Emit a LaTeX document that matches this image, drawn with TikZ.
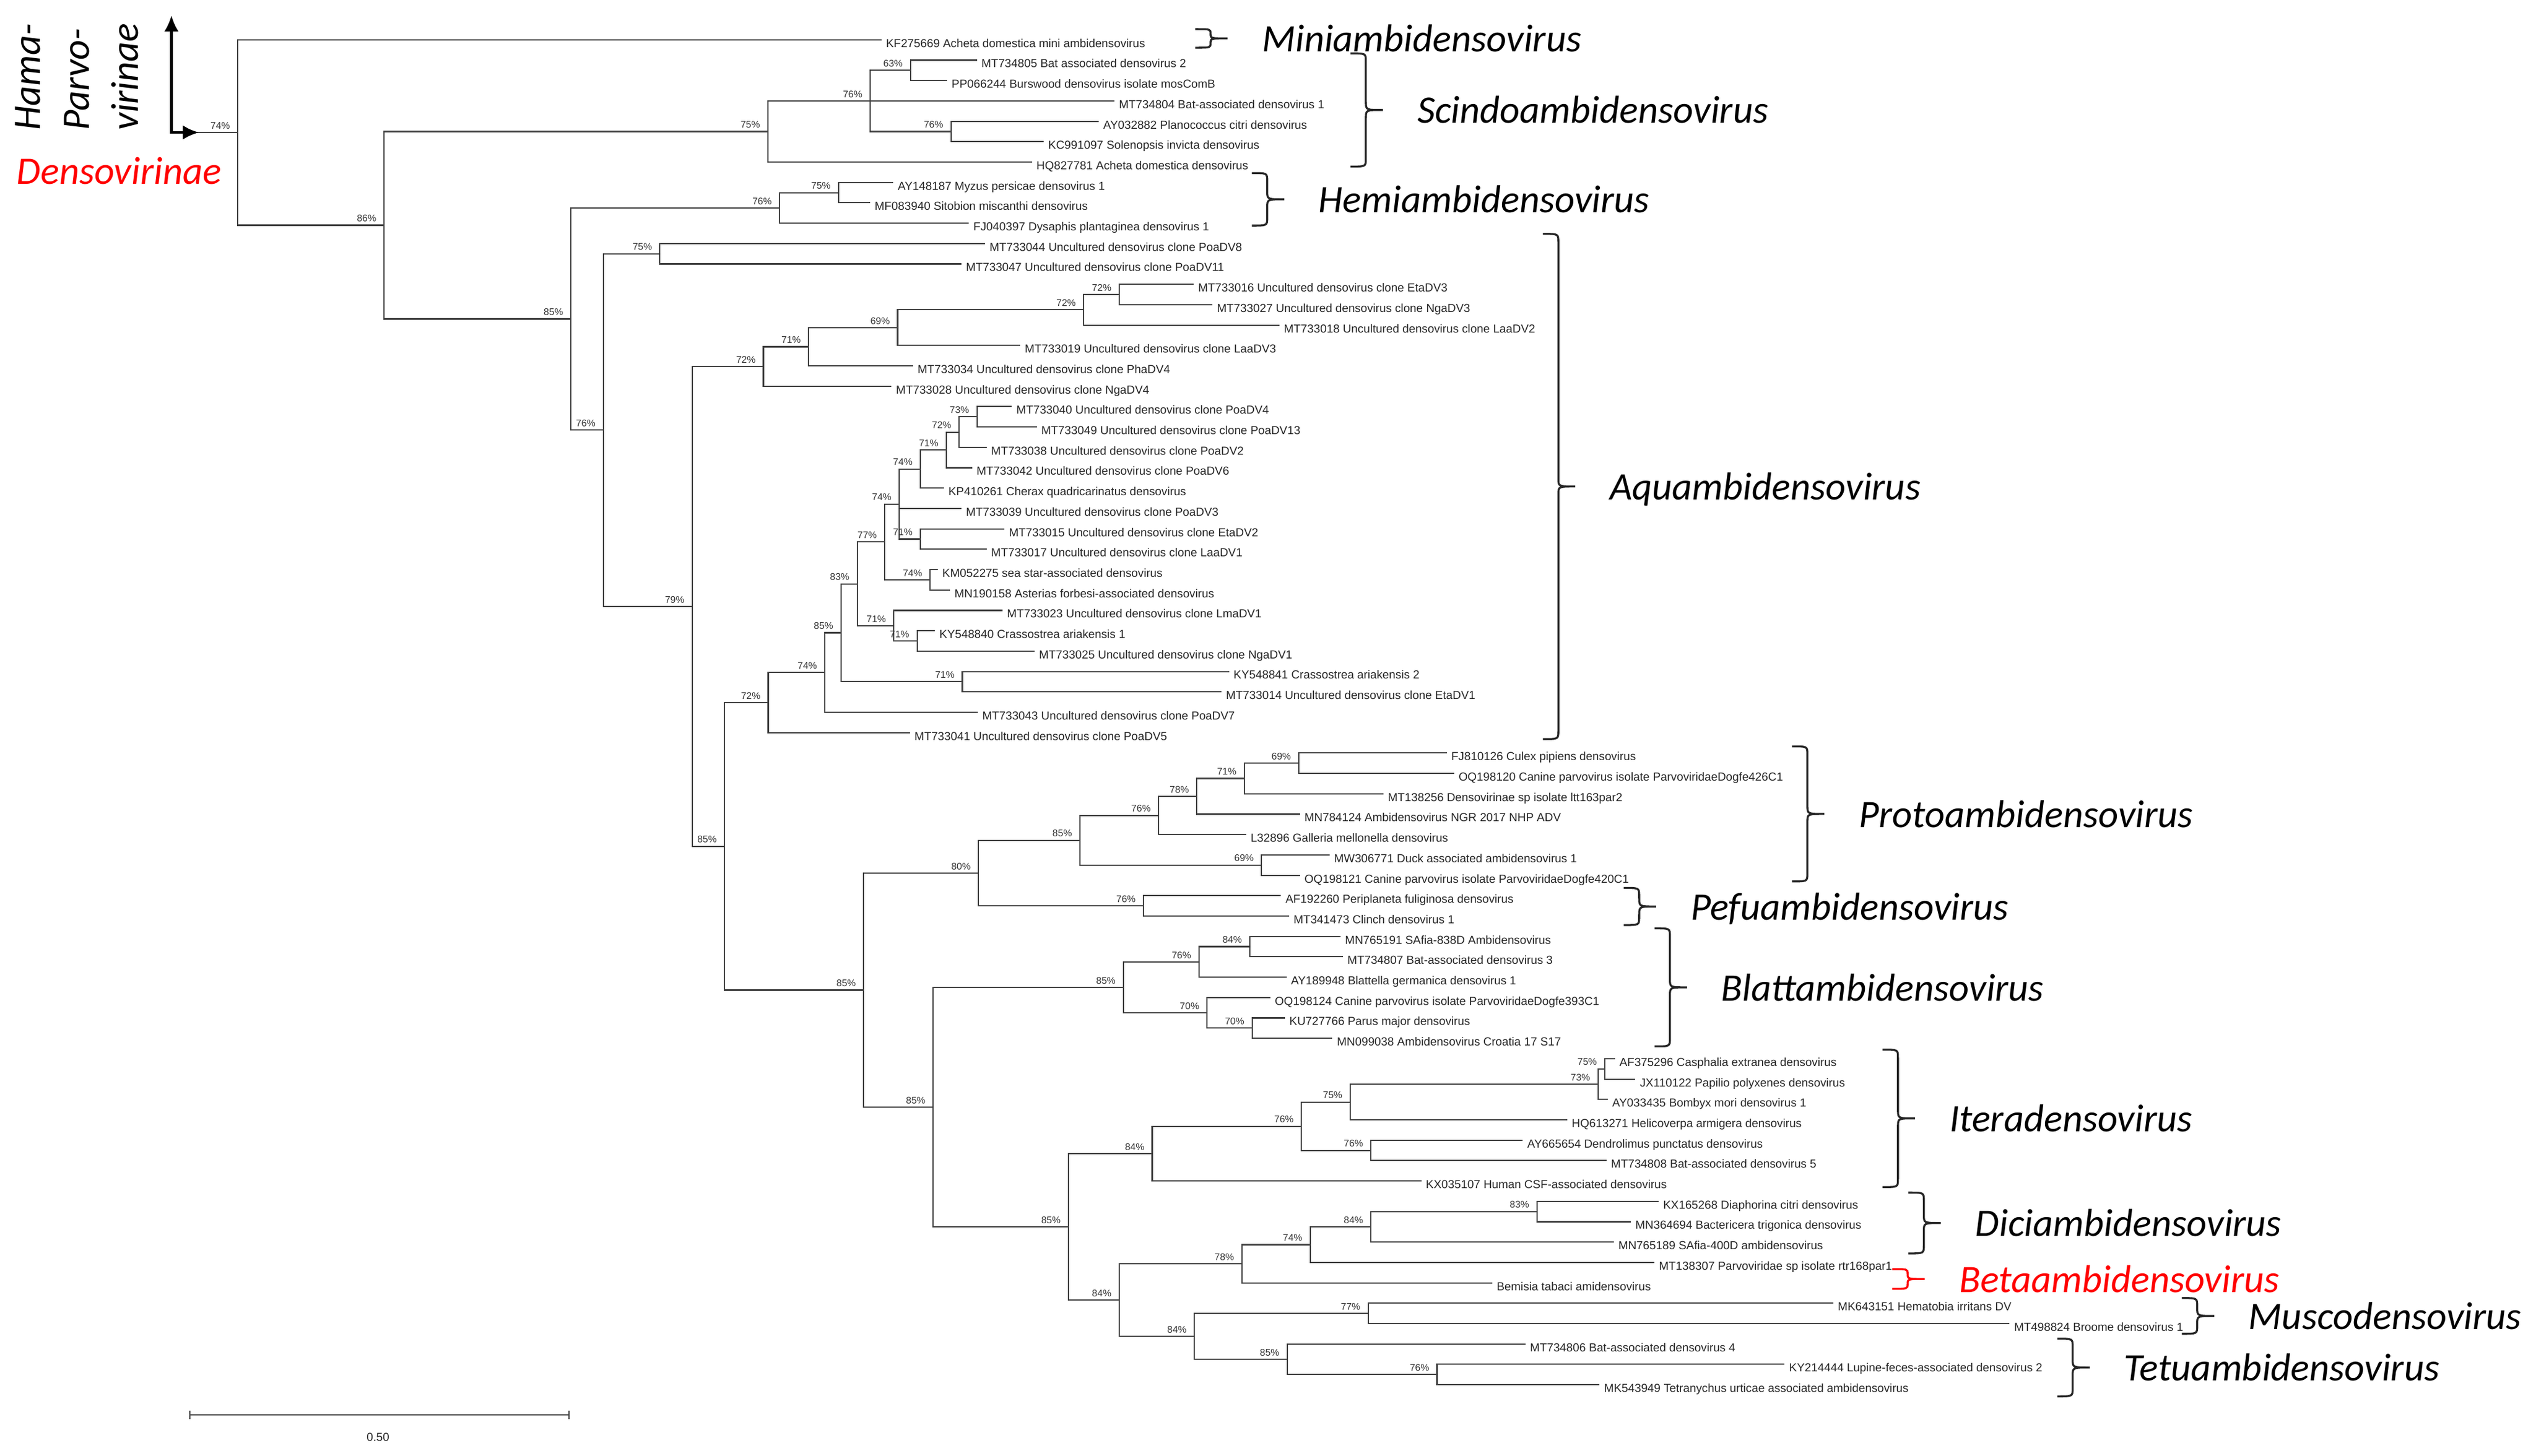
\documentclass[tikz,border=0pt]{standalone}
\usepackage{fontspec}
\setmainfont{Liberation Sans}
\newfontfamily\genusfont{Carlito}
\usetikzlibrary{arrows.meta}
\def\treeleaf(#1)(#2,#3)#4{\coordinate (#1) at (#2,#3); \node[leaflabel] (#1-name) at (#1) {#4};}
\def\treeclade(#1)(#2,#3)#4{\coordinate (#1) at (#2,#3); \node[bootlabel] (#1-boot) at (#1) {#4\%};}
\def\genbrace[#1](#2)(#3,#4,#5){%
	\pgfmathsetmacro\bmid{(#4+#5)/2}%
	\pgfmathsetmacro\brad{min(5,(#5-#4)/4)}%
	\draw[braceline,#1] (#3,#4) .. controls ({#3+9.5},#4) .. ({#3+9.5},{#4+\brad}) -- ({#3+9.5},{\bmid-\brad}) .. controls ({#3+9.5},\bmid) .. ({#3+20},\bmid) .. controls ({#3+9.5},\bmid) .. ({#3+9.5},{\bmid+\brad}) -- ({#3+9.5},{#5-\brad}) .. controls ({#3+9.5},#5) .. (#3,#5);%
	\coordinate (#2) at ({#3+20},\bmid);}

\begin{document}
\begin{tikzpicture}[x=0.02cm, y=-0.02cm,
	treeline/.style={line width=0.45pt, draw=black!75},
	leaflabel/.style={anchor=mid west, inner sep=0pt, xshift=0.05cm, text=black!85, font=\fontsize{4.1}{5}\selectfont},
	bootlabel/.style={anchor=south east, inner sep=0pt, xshift=-0.09cm, yshift=0.035cm, text=black!80, font=\fontsize{3.4}{4}\selectfont},
	genuslabel/.style={anchor=base west, inner sep=0pt, font=\genusfont\itshape\fontsize{13.7}{16}\selectfont},
	braceline/.style={line width=0.7pt, draw=black!85},
	axisarrow/.style={line width=1pt, {Latex[length=2mm, width=1.8mm]}-{Latex[length=2mm, width=1.8mm]}}]
		%%%%% START %%%%%
		
		\useasboundingbox (0,0) rectangle (1568,900.2);
		
		\treeclade(root)(147,81.9){74}
		\treeleaf(KF275669)(545,24.6){KF275669 Acheta domestica mini ambidensovirus}
		\treeclade(dens)(237.5,139.25){86}
		\draw[treeline] (root) |- (KF275669) (root) |- (dens);
		
		\treeclade(sc0)(474.7,81.3){75}
		\treeclade(sc1)(538,62.4){76}
		\treeclade(sc2)(563,43.5){63}
		\treeclade(sc3)(588,81.3){76}
		\treeleaf(MT734805)(604,37.2){MT734805 Bat associated densovirus 2}
		\treeleaf(PP066244)(585.6,49.8){PP066244 Burswood densovirus isolate mosComB}
		\treeleaf(MT734804)(689,62.4){MT734804 Bat-associated densovirus 1}
		\treeleaf(AY032882)(679.3,75.0){AY032882 Planococcus citri densovirus}
		\treeleaf(KC991097)(645.3,87.6){KC991097 Solenopsis invicta densovirus}
		\treeleaf(HQ827781)(638,100.2){HQ827781 Acheta domestica densovirus}
		\draw[treeline] (dens) |- (sc0) (sc0) |- (sc1) (sc0) |- (HQ827781) (sc1) |- (sc2) (sc1) |- (MT734804) (sc1) |- (sc3) (sc2) |- (MT734805) (sc2) |- (PP066244) (sc3) |- (AY032882) (sc3) |- (KC991097);
		
		\treeclade(bb)(353,197.2){85}
		\treeclade(he0)(482,128.55){76}
		\treeclade(he1)(518.4,119.1){75}
		\treeleaf(AY148187)(552.3,112.8){AY148187 Myzus persicae densovirus 1}
		\treeleaf(MF083940)(538,125.4){MF083940 Sitobion miscanthi densovirus}
		\treeleaf(FJ040397)(599,138.0){FJ040397 Dysaphis plantaginea densovirus 1}
		\draw[treeline] (dens) |- (bb) (bb) |- (he0) (he0) |- (he1) (he0) |- (FJ040397) (he1) |- (AY148187) (he1) |- (MF083940);
		
		\treeclade(cc)(373,265.9){76}
		\treeclade(aq0)(408,156.9){75}
		\treeleaf(MT733044)(609,150.6){MT733044 Uncultured densovirus clone PoaDV8}
		\treeleaf(MT733047)(594.4,163.2){MT733047 Uncultured densovirus clone PoaDV11}
		\treeclade(dd)(428,374.95){79}
		\treeclade(aq1)(472,226.6){72}
		\treeclade(aq2)(500,214.4){71}
		\treeclade(aq3)(555,202.6){69}
		\treeclade(aq4)(670,191.55){72}
		\treeclade(aq5)(692,182.1){72}
		\treeleaf(MT733016)(738,175.8){MT733016 Uncultured densovirus clone EtaDV3}
		\treeleaf(MT733027)(749.6,188.4){MT733027 Uncultured densovirus clone NgaDV3}
		\treeleaf(MT733018)(791,201.0){MT733018 Uncultured densovirus clone LaaDV2}
		\treeleaf(MT733019)(630.8,213.6){MT733019 Uncultured densovirus clone LaaDV3}
		\treeleaf(MT733034)(564.5,226.2){MT733034 Uncultured densovirus clone PhaDV4}
		\treeleaf(MT733028)(551.2,238.8){MT733028 Uncultured densovirus clone NgaDV4}
		\draw[treeline] (bb) |- (cc) (cc) |- (aq0) (cc) |- (dd) (aq0) |- (MT733044) (aq0) |- (MT733047) (dd) |- (aq1) (aq1) |- (aq2) (aq1) |- (MT733028) (aq2) |- (aq3) (aq2) |- (MT733034) (aq3) |- (aq4) (aq3) |- (MT733019) (aq4) |- (aq5) (aq4) |- (MT733018) (aq5) |- (MT733016) (aq5) |- (MT733027);
		
		\treeclade(ff)(448,523.3){85}
		\treeclade(aq6)(475,434.4){72}
		\treeclade(aq7)(510,415.8){74}
		\treeclade(aq8)(520,391.25){85}
		\treeclade(aq9)(530,361.0){83}
		\treeclade(aq10)(547,335.1){77}
		\treeclade(aq11)(556,311.65){74}
		\treeclade(aq12)(569,290.0){74}
		\treeclade(aq13)(585,278.2){71}
		\treeclade(aq14)(593,267.15){72}
		\treeclade(aq15)(604,257.7){73}
		\treeclade(aq16)(569,333.3){71}
		\treeclade(aq17)(575,358.5){74}
		\treeclade(aq18)(552.6,386.85){71}
		\treeclade(aq19)(567,396.3){71}
		\treeclade(aq20)(595,421.5){71}
		\treeleaf(MT733040)(625.6,251.4){MT733040 Uncultured densovirus clone PoaDV4}
		\treeleaf(MT733049)(641,264.0){MT733049 Uncultured densovirus clone PoaDV13}
		\treeleaf(MT733038)(610,276.6){MT733038 Uncultured densovirus clone PoaDV2}
		\treeleaf(MT733042)(601,289.2){MT733042 Uncultured densovirus clone PoaDV6}
		\treeleaf(KP410261)(583.6,301.8){KP410261 Cherax quadricarinatus densovirus}
		\treeleaf(MT733039)(594.4,314.4){MT733039 Uncultured densovirus clone PoaDV3}
		\treeleaf(MT733015)(621,327.0){MT733015 Uncultured densovirus clone EtaDV2}
		\treeleaf(MT733017)(610,339.6){MT733017 Uncultured densovirus clone LaaDV1}
		\treeleaf(KM052275)(579.8,352.2){KM052275 sea star-associated densovirus}
		\treeleaf(MN190158)(587.3,364.8){MN190158 Asterias forbesi-associated densovirus}
		\treeleaf(MT733023)(619.8,377.4){MT733023 Uncultured densovirus clone LmaDV1}
		\treeleaf(KY548840)(578,390.0){KY548840 Crassostrea ariakensis 1}
		\treeleaf(MT733025)(639.6,402.6){MT733025 Uncultured densovirus clone NgaDV1}
		\treeleaf(KY548841)(759.9,415.2){KY548841 Crassostrea ariakensis 2}
		\treeleaf(MT733014)(755.2,427.8){MT733014 Uncultured densovirus clone EtaDV1}
		\treeleaf(MT733043)(604.5,440.4){MT733043 Uncultured densovirus clone PoaDV7}
		\treeleaf(MT733041)(562.6,453.0){MT733041 Uncultured densovirus clone PoaDV5}
		\draw[treeline] (dd) |- (ff) (ff) |- (aq6) (aq6) |- (aq7) (aq6) |- (MT733041) (aq7) |- (aq8) (aq7) |- (MT733043) (aq8) |- (aq9) (aq8) |- (aq20) (aq9) |- (aq10) (aq9) |- (aq18) (aq10) |- (aq11) (aq10) |- (aq17) (aq11) |- (aq12) (aq11) |- (MT733039) (aq11) |- (aq16) (aq12) |- (aq13) (aq12) |- (KP410261) (aq13) |- (aq14) (aq13) |- (MT733042) (aq14) |- (aq15) (aq14) |- (MT733038) (aq15) |- (MT733040) (aq15) |- (MT733049) (aq16) |- (MT733015) (aq16) |- (MT733017) (aq17) |- (KM052275) (aq17) |- (MN190158) (aq18) |- (MT733023) (aq18) |- (aq19) (aq19) |- (KY548840) (aq19) |- (MT733025) (aq20) |- (KY548841) (aq20) |- (MT733014);
		
		\treeclade(kk)(534,612.2){85}
		\treeclade(ll)(605,539.8){80}
		\treeclade(pr0)(667.6,519.55){85}
		\treeclade(pr1)(716.3,504.2){76}
		\treeclade(pr2)(740,492.4){78}
		\treeclade(pr3)(769.3,481.35){71}
		\treeclade(pr4)(803,471.9){69}
		\treeclade(pr5)(780,534.9){69}
		\treeclade(pe0)(707,560.1){76}
		\treeleaf(FJ810126)(894.5,465.6){FJ810126 Culex pipiens densovirus}
		\treeleaf(OQ198120)(899,478.2){OQ198120 Canine parvovirus isolate ParvoviridaeDogfe426C1}
		\treeleaf(MT138256)(855.3,490.8){MT138256 Densovirinae sp isolate ltt163par2}
		\treeleaf(MN784124)(803.7,503.4){MN784124 Ambidensovirus NGR 2017 NHP ADV}
		\treeleaf(L32896)(770.4,516.0){L32896 Galleria mellonella densovirus}
		\treeleaf(MW306771)(822,528.6){MW306771 Duck associated ambidensovirus 1}
		\treeleaf(OQ198121)(803.7,541.2){OQ198121 Canine parvovirus isolate ParvoviridaeDogfe420C1}
		\treeleaf(AF192260)(792,553.8){AF192260 Periplaneta fuliginosa densovirus}
		\treeleaf(MT341473)(797,566.4){MT341473 Clinch densovirus 1}
		\draw[treeline] (ff) |- (kk) (kk) |- (ll) (ll) |- (pr0) (ll) |- (pe0) (pr0) |- (pr1) (pr0) |- (pr5) (pr1) |- (pr2) (pr1) |- (L32896) (pr2) |- (pr3) (pr2) |- (MN784124) (pr3) |- (pr4) (pr3) |- (MT138256) (pr4) |- (FJ810126) (pr4) |- (OQ198120) (pr5) |- (MW306771) (pr5) |- (OQ198121) (pe0) |- (AF192260) (pe0) |- (MT341473);
		
		\treeclade(mm)(577,684.55){85}
		\treeclade(bl0)(694.6,610.5){85}
		\treeclade(bl1)(741.3,594.75){76}
		\treeclade(bl2)(772.7,585.3){84}
		\treeclade(bl3)(746.3,626.25){70}
		\treeclade(bl4)(774.2,635.7){70}
		\treeleaf(MN765191)(828.8,579.0){MN765191 SAfia-838D Ambidensovirus}
		\treeleaf(MT734807)(830.3,591.6){MT734807 Bat-associated densovirus 3}
		\treeleaf(AY189948)(795.4,604.2){AY189948 Blattella germanica densovirus 1}
		\treeleaf(OQ198124)(785.4,616.8){OQ198124 Canine parvovirus isolate ParvoviridaeDogfe393C1}
		\treeleaf(KU727766)(794.4,629.4){KU727766 Parus major densovirus}
		\treeleaf(MN099038)(823.8,642.0){MN099038 Ambidensovirus Croatia 17 S17}
		\draw[treeline] (kk) |- (mm) (mm) |- (bl0) (bl0) |- (bl1) (bl0) |- (bl3) (bl1) |- (bl2) (bl1) |- (AY189948) (bl2) |- (MN765191) (bl2) |- (MT734807) (bl3) |- (OQ198124) (bl3) |- (bl4) (bl4) |- (KU727766) (bl4) |- (MN099038);
		
		\treeclade(nn)(660.6,758.6){85}
		\treeclade(it0)(712.4,713.3){84}
		\treeclade(it1)(804.7,696.35){76}
		\treeclade(it2)(834.8,681.4){75}
		\treeclade(it3)(988,670.35){73}
		\treeclade(it4)(992.2,660.9){75}
		\treeclade(it5)(847.7,711.3){76}
		\treeleaf(AF375296)(998.5,654.6){AF375296 Casphalia extranea densovirus}
		\treeleaf(JX110122)(1011.1,667.2){JX110122 Papilio polyxenes densovirus}
		\treeleaf(AY033435)(994,679.8){AY033435 Bombyx mori densovirus 1}
		\treeleaf(HQ613271)(969,692.4){HQ613271 Helicoverpa armigera densovirus}
		\treeleaf(AY665654)(941.5,705.0){AY665654 Dendrolimus punctatus densovirus}
		\treeleaf(MT734808)(993.3,717.6){MT734808 Bat-associated densovirus 5}
		\treeleaf(KX035107)(878.8,730.2){KX035107 Human CSF-associated densovirus}
		\draw[treeline] (mm) |- (nn) (nn) |- (it0) (it0) |- (it1) (it0) |- (KX035107) (it1) |- (it2) (it1) |- (it5) (it2) |- (it3) (it2) |- (HQ613271) (it3) |- (it4) (it3) |- (AY033435) (it4) |- (AF375296) (it4) |- (JX110122) (it5) |- (AY665654) (it5) |- (MT734808);
		
		\treeclade(oo)(692,803.85){84}
		\treeclade(pp)(767.8,781.4){78}
		\treeclade(di0)(810,769.6){74}
		\treeclade(di1)(847.7,758.55){84}
		\treeclade(di2)(950.3,749.1){83}
		\treeclade(qq)(738.5,826.3){84}
		\treeclade(mu0)(845.9,812.1){77}
		\treeclade(te0)(795.8,840.45){85}
		\treeclade(te1)(888.5,849.9){76}
		\treeleaf(KX165268)(1025.5,742.8){KX165268 Diaphorina citri densovirus}
		\treeleaf(MN364694)(1008.3,755.4){MN364694 Bactericera trigonica densovirus}
		\treeleaf(MN765189)(997.8,768.0){MN765189 SAfia-400D ambidensovirus}
		\treeleaf(MT138307)(1022.9,780.6){MT138307 Parvoviridae sp isolate rtr168par1}
		\treeleaf(Bemisia)(922.6,793.2){Bemisia tabaci amidensovirus}
		\treeleaf(MK643151)(1133.5,805.8){MK643151 Hematobia irritans DV}
		\treeleaf(MT498824)(1242.5,818.4){MT498824 Broome densovirus 1}
		\treeleaf(MT734806)(943.2,831.0){MT734806 Bat-associated densovirus 4}
		\treeleaf(KY214444)(1103.4,843.6){KY214444 Lupine-feces-associated densovirus 2}
		\treeleaf(MK543949)(989,856.2){MK543949 Tetranychus urticae associated ambidensovirus}
		\draw[treeline] (nn) |- (oo) (oo) |- (pp) (oo) |- (qq) (pp) |- (di0) (pp) |- (Bemisia) (di0) |- (di1) (di0) |- (MT138307) (di1) |- (di2) (di1) |- (MN765189) (di2) |- (KX165268) (di2) |- (MN364694) (qq) |- (mu0) (qq) |- (te0) (mu0) |- (MK643151) (mu0) |- (MT498824) (te0) |- (MT734806) (te0) |- (te1) (te1) |- (KY214444) (te1) |- (MK543949);
		
		% genera
		\genbrace[](mini-tip)(739,18,29.5)
		\genbrace[](scindo-tip)(835,33,103)
		\genbrace[](hemi-tip)(774,107,139.5)
		\genbrace[](aqua-tip)(954,144.6,457)
		\genbrace[](proto-tip)(1108,461.5,545)
		\genbrace[](pefu-tip)(1004,549,572)
		\genbrace[](blatta-tip)(1023,574,647)
		\genbrace[](itera-tip)(1164,649,734)
		\genbrace[](dici-tip)(1180,737.4,775)
		\genbrace[draw=red](beta-tip)(1170,784.7,796.9)
		\genbrace[](musco-tip)(1349,802.6,824.7)
		\genbrace[](tetua-tip)(1272,827.7,863.4)
		
		\node[genuslabel] (mini) at ([xshift=0.42cm, yshift=-0.165cm]mini-tip) {Miniambidensovirus};
		\node[genuslabel] (scindo) at ([xshift=0.42cm, yshift=-0.165cm]scindo-tip) {Scindoambidensovirus};
		\node[genuslabel] (hemi) at ([xshift=0.42cm, yshift=-0.165cm]hemi-tip) {Hemiambidensovirus};
		\node[genuslabel] (aqua) at ([xshift=0.42cm, yshift=-0.165cm]aqua-tip) {Aquambidensovirus};
		\node[genuslabel] (proto) at ([xshift=0.42cm, yshift=-0.165cm]proto-tip) {Protoambidensovirus};
		\node[genuslabel] (pefu) at ([xshift=0.42cm, yshift=-0.165cm]pefu-tip) {Pefuambidensovirus};
		\node[genuslabel] (blatta) at ([xshift=0.42cm, yshift=-0.165cm]blatta-tip) {Blattambidensovirus};
		\node[genuslabel] (itera) at ([xshift=0.42cm, yshift=-0.165cm]itera-tip) {Iteradensovirus};
		\node[genuslabel] (dici) at ([xshift=0.42cm, yshift=-0.165cm]dici-tip) {Diciambidensovirus};
		\node[genuslabel, text=red] (beta) at ([xshift=0.42cm, yshift=-0.165cm]beta-tip) {Betaambidensovirus};
		\node[genuslabel] (musco) at ([xshift=0.42cm, yshift=-0.165cm]musco-tip) {Muscodensovirus};
		\node[genuslabel] (tetua) at ([xshift=0.42cm, yshift=-0.165cm]tetua-tip) {Tetuambidensovirus};
		
		% subfamilies
		\coordinate (axis) at (106,81.9);
		\coordinate (axis-up) at (106,9.5);
		\coordinate (axis-right) at (123,81.9);
		\draw[treeline] (axis) -- (root);
		\draw[axisarrow] (axis-up) -- (axis) -- (axis-right);
		\node[genuslabel, rotate=90] (hama) at (25,81) {Hama-};
		\node[genuslabel, rotate=90] (parvo) at (55,81) {Parvo-};
		\node[genuslabel, rotate=90] (virinae) at (85.5,81) {virinae};
		\node[genuslabel, text=red] (densovirinae) at (10,114) {Densovirinae};
		
		% scale
		\coordinate (bar-l) at (117.3,874.8);
		\coordinate (bar-r) at (351.7,874.8);
		\draw[treeline] (bar-l) -- (bar-r) ([yshift=0.05cm]bar-l) -- ([yshift=-0.05cm]bar-l) ([yshift=0.05cm]bar-r) -- ([yshift=-0.05cm]bar-r);
		\node[text=black!85, font=\fontsize{4.1}{5}\selectfont] (bar-text) at (233.7,888.8) {0.50};
		
		%%%%% END %%%%%
	\end{tikzpicture}
\end{document}
